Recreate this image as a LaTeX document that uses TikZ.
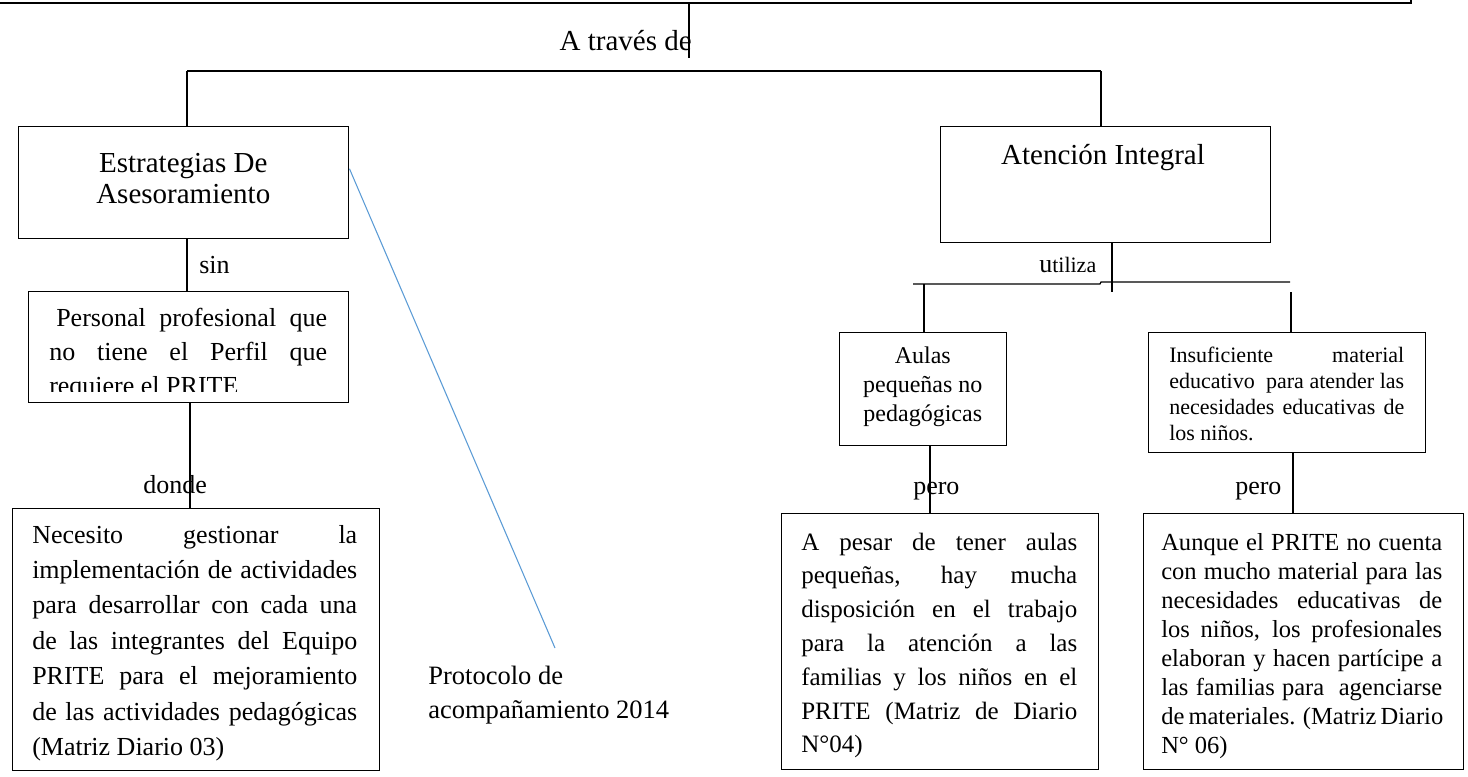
\documentclass[tikz,border=0pt]{standalone}
\usepackage{fontspec}
\setmainfont{Liberation Serif}
\usetikzlibrary{calc}
\definecolor{lineblue}{HTML}{5B9BD5}
\newdimen\lw
\newcommand\jl[1]{\hbox to \lw{#1}}
\newcommand\lastln[1]{\hbox to \lw{#1\hfil}}
\newcommand\cln[1]{\hbox to \lw{\hfil#1\hfil}}
\newcommand\tb[3]{\vtop{\lw=#1\relax\baselineskip=#2\relax\lineskiplimit=-\maxdimen\lineskip=0pt\relax #3}}
\newcommand\fsz[1]{\fontsize{#1}{#1}\selectfont}
\tikzset{
  bx/.style={draw, line width=1.1pt, inner sep=0pt, anchor=north west},
  conn/.style={line width=1.1pt},
  thin conn/.style={line width=0.9pt},
  txt/.style={inner sep=0pt, anchor=base west},
  blueln/.style={draw=lineblue, line width=0.8pt}
}
\begin{document}
\begin{tikzpicture}[x=0.75pt, y=-0.75pt]
\useasboundingbox (0,0) rectangle (1468,776);

% boxes
\node[bx, anchor=south east, minimum width=1087.5pt, minimum height=45pt, line width=1.5pt] (top) at (1412,4) {};
\node[bx, minimum width=247.5pt, minimum height=84pt] (est) at (18,126) {};
\node[bx, minimum width=247.5pt, minimum height=87pt] (ate) at (940,126) {};
\node[bx, minimum width=240pt, minimum height=83.25pt] (per) at (28,291) {};
\node[bx, minimum width=275.25pt, minimum height=196.5pt] (nec) at (12,508) {};
\node[bx, minimum width=125.25pt, minimum height=84.75pt] (aul) at (839,332) {};
\node[bx, minimum width=207.75pt, minimum height=90pt] (ins) at (1148,332) {};
\node[bx, minimum width=237.75pt, minimum height=192pt] (ape) at (781,513) {};
\node[bx, minimum width=240pt, minimum height=192pt] (aun) at (1143,513) {};

% coordinates for connectors
\coordinate (atr) at (689,58);
\coordinate (bl) at (187,71);
\coordinate (br) at (1101,71);
\coordinate (pv) at (190,0);
\coordinate (pend) at (555,648);
\coordinate (uv) at (1112,292);
\coordinate (ul) at (913,284);
\coordinate (us) at (1100,284);
\coordinate (us2) at (1101,282);
\coordinate (ur) at (1290,282);
\coordinate (av) at (924,284);
\coordinate (iv) at (1291,292);
\coordinate (ap) at (930,0);
\coordinate (ip) at (1293,0);

% connectors
\draw[conn] (atr |- top.south) -- (atr);
\draw[conn] (bl) -- (br);
\draw[conn] (bl) -- (bl |- est.north);
\draw[conn] (br) -- (br |- ate.north);
\draw[conn] (bl |- est.south) -- (bl |- per.north);
\draw[conn] (pv |- per.south) -- (pv |- nec.north);
\draw[blueln] ([yshift=10.5pt]est.east) -- (pend);
\draw[conn] (uv |- ate.south) -- (uv);
\draw[thin conn] (ul) -- (us) -- (us2) -- (ur);
\draw[conn] (av) -- (av |- aul.north);
\draw[conn] (iv) -- (iv |- ins.north);
\draw[conn] (ap |- aul.south) -- (ap |- ape.north);
\draw[conn] (ip |- ins.south) -- (ip |- aun.north);

% labels
\node[txt, anchor=base east] (atrav) at (692,50) {\fsz{21.75pt}A través de};
\node[txt] (lsin) at (199,273) {\fsz{19.5pt}sin};
\node[txt] (ldonde) at (143,493) {\fsz{19.5pt}donde};
\node[txt] (lutil) at (1039,272) {{\fsz{19.5pt}u}{\fsz{16.5pt}tiliza}};
\node[txt] (lpero1) at (913,494) {\fsz{19.5pt}pero};
\node[txt] (lpero2) at (1235,494) {\fsz{19.5pt}pero};
\node[txt] (prot) at (428,684) {\fsz{19.9pt}\tb{200pt}{25.5pt}{\lastln{Protocolo de}\lastln{acompañamiento 2014}}};

% box texts
\node[txt] (estT) at (18,172) {\fsz{21.75pt}\tb{247.5pt}{23.25pt}{\cln{Estrategias De}\cln{Asesoramiento}}};
\node[txt, anchor=base] (ateT) at (1103,164) {\fsz{21.75pt}Atención Integral};
\begin{scope}
\clip (0,0) rectangle (1468,391);
\node[txt] (perT) at (49,326) {\fsz{19.5pt}\tb{208.5pt}{25.5pt}{\jl{\kern5.25pt Personal profesional que}\jl{no tiene el Perfil que}\lastln{requiere el PRITE}}};
\end{scope}
\node[txt] (necT) at (32,543) {\fsz{19.5pt}\tb{243.75pt}{26.6pt}{%
\jl{Necesito gestionar la}%
\jl{implementación de actividades}%
\jl{para desarrollar con cada una}%
\jl{de las integrantes del Equipo}%
\jl{PRITE para el mejoramiento}%
\jl{de las actividades pedagógicas}%
\lastln{(Matriz Diario 03)}}};
\node[txt] (aulT) at (839,363) {\fsz{18pt}\tb{125.25pt}{22.1pt}{\cln{Aulas}\cln{pequeñas no}\cln{pedagógicas}}};
\node[txt] (insT) at (1169,362) {\fsz{16.5pt}\tb{176.25pt}{19.5pt}{%
\jl{Insuficiente material}%
\jl{educativo\ \ para atender las}%
\jl{necesidades educativas de}%
\lastln{los niños.}}};
\node[txt] (apeT) at (801,550) {\fsz{18.75pt}\tb{207pt}{25.35pt}{%
\jl{A pesar de tener aulas}%
\jl{pequeñas, hay mucha}%
\jl{disposición en el trabajo}%
\jl{para la atención a las}%
\jl{familias y los niños en el}%
\jl{PRITE (Matriz de Diario}%
\lastln{N°04)}}};
\node[txt] (aunT) at (1161,550) {\fsz{18.4pt}\tb{210.75pt}{21.75pt}{%
\jl{Aunque el PRITE no cuenta}%
\jl{con mucho material para las}%
\jl{necesidades educativas de}%
\jl{los niños, los profesionales}%
\jl{elaboran y hacen partícipe a}%
\jl{las familias para\ \ agenciarse}%
\jl{de materiales. (Matriz Diario}%
\lastln{N° 06)}}};
\end{tikzpicture}
\end{document}
